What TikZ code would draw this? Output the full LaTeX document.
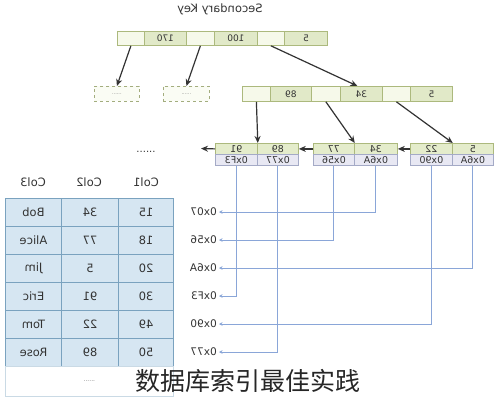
\documentclass[tikz,border=0pt]{standalone}
\usepackage{fontspec}
\setmainfont{DejaVu Sans}
\newfontfamily\cjk{Noto Sans CJK SC}
\usetikzlibrary{arrows.meta}
\newcommand\mr[1]{\reflectbox{#1}}
\definecolor{nodeedge}{HTML}{ACB97D}
\definecolor{keyfill}{HTML}{E1E9C8}
\definecolor{ptrfill}{HTML}{F6F9EA}
\definecolor{leaftop}{HTML}{E4ECCB}
\definecolor{leafbot}{HTML}{E8E8F3}
\definecolor{leafedge}{HTML}{A4AAC6}
\definecolor{tabfill}{HTML}{D6E6F2}
\definecolor{tabedge}{HTML}{7AA2BF}
\definecolor{linkcol}{HTML}{8AA6D8}
\definecolor{txt}{HTML}{333333}
\tikzset{
  cellbase/.style={draw=nodeedge, line width=0.8pt, inner sep=0pt, anchor=north west, text=txt},
  ptrcell/.style={cellbase, fill=ptrfill},
  keycell/.style={cellbase, fill=keyfill, font=\fontsize{9}{9}\selectfont},
  ltop/.style={cellbase, fill=leaftop, minimum height=11pt, font=\fontsize{9.5}{9.5}\selectfont},
  lbot/.style={cellbase, draw=leafedge, fill=leafbot, minimum height=11pt, font=\fontsize{9.5}{9.5}\selectfont},
  dashbox/.style={draw=nodeedge!80!gray, dashed, line width=0.8pt, fill=ptrfill!50, inner sep=0pt, anchor=north west, minimum height=15pt, font=\fontsize{5}{5}\selectfont, text=gray},
  tcell/.style={draw=tabedge, fill=tabfill, line width=1pt, inner sep=0pt, anchor=north west, minimum height=28pt, text=txt, font=\fontsize{11.5}{12}\selectfont},
  thead/.style={text=txt, font=\fontsize{11.5}{12}\selectfont},
  addr/.style={anchor=east, inner sep=2pt, text=txt, font=\fontsize{10.5}{11}\selectfont},
  ptrarrow/.style={-{Stealth[length=7pt,width=6pt]}, line width=1.2pt, draw=txt},
  linkarrow/.style={-{Stealth[length=3.5pt,width=3.5pt]}, line width=0.9pt, draw=linkcol},
}
\begin{document}
\begin{tikzpicture}[x=1pt,y=-1pt]
\useasboundingbox (0,0) rectangle (504,400);
\fill[white] (0,0) rectangle (504,400);
% title
\node[text=txt, font=\fontsize{11.5}{12}\selectfont] (title) at (220,9) {\mr{Secondary Key}};
% top node
\node[ptrcell, minimum width=27pt, minimum height=14pt] (t1) at (117,31) {};
\node[keycell, minimum width=42pt, minimum height=14pt] (t2) at (144,31) {\mr{170}};
\node[ptrcell, minimum width=28pt, minimum height=14pt] (t3) at (186,31) {};
\node[keycell, minimum width=43pt, minimum height=14pt] (t4) at (214,31) {\mr{100}};
\node[ptrcell, minimum width=27pt, minimum height=14pt] (t5) at (257,31) {};
\node[keycell, minimum width=43pt, minimum height=14pt] (t6) at (284,31) {\mr{5}};
% dashed boxes
\node[dashbox, minimum width=45pt] (d1) at (94,86) {......};
\node[dashbox, minimum width=46pt] (d2) at (163,86) {......};
% level 2
\node[ptrcell, minimum width=28pt, minimum height=15pt] (m1) at (242,86) {};
\node[keycell, minimum width=41pt, minimum height=15pt] (m2) at (270,86) {\mr{89}};
\node[ptrcell, minimum width=29pt, minimum height=15pt] (m3) at (311,86) {};
\node[keycell, minimum width=42pt, minimum height=15pt] (m4) at (340,86) {\mr{34}};
\node[ptrcell, minimum width=28pt, minimum height=15pt] (m5) at (382,86) {};
\node[keycell, minimum width=42pt, minimum height=15pt] (m6) at (410,86) {\mr{5}};
% leaves
\node[ltop, minimum width=42pt] (L1a) at (215,143) {\mr{91}};
\node[ltop, minimum width=41pt] (L1b) at (257,143) {\mr{89}};
\node[lbot, minimum width=42pt] (B1a) at (215,154) {\mr{0xF3}};
\node[lbot, minimum width=41pt] (B1b) at (257,154) {\mr{0x77}};
\node[ltop, minimum width=41pt] (L2a) at (313,143) {\mr{77}};
\node[ltop, minimum width=43pt] (L2b) at (354,143) {\mr{34}};
\node[lbot, minimum width=41pt] (B2a) at (313,154) {\mr{0x56}};
\node[lbot, minimum width=43pt] (B2b) at (354,154) {\mr{0x6A}};
\node[ltop, minimum width=42pt] (L3a) at (410,143) {\mr{22}};
\node[ltop, minimum width=41pt] (L3b) at (452,143) {\mr{5}};
\node[lbot, minimum width=42pt] (B3a) at (410,154) {\mr{0x90}};
\node[lbot, minimum width=41pt] (B3b) at (452,154) {\mr{0x6A}};
\coordinate (lend) at (201,148.5);
% tree arrows
\draw[ptrarrow] (t1.south) -- (d1.north);
\draw[ptrarrow] (t3.south) -- (d2.north);
\draw[ptrarrow] (t5.south) -- ([xshift=-4pt]m4.north);
\draw[ptrarrow] (m1.south) -- (L1a.north east);
\draw[ptrarrow] (m3.south) -- (L2a.north east);
\draw[ptrarrow] (m5.south) -- (L3a.north east);
\draw[ptrarrow] (L3a.west) -- (L2b.east);
\draw[ptrarrow] (L2a.west) -- (L1b.east);
\draw[ptrarrow] (L1a.west) -- (lend);
% dots above table
\node[text=txt, font=\fontsize{10}{10}\selectfont] (dots) at (146,152) {......};
% table header
\node[thead] (h3) at (33,182) {\mr{Col3}};
\node[thead] (h2) at (89,182) {\mr{Col2}};
\node[thead] (h1) at (146,182) {\mr{Col1}};
% table rows
\foreach \a/\b/\n [count=\i] in {15/34/Bob, 18/77/Alice, 20/5/Jim, 30/91/Eric, 49/22/Tom, 50/89/Rose} {
  \node[tcell, minimum width=56pt] (r\i c3) at (5,{198+28*(\i-1)}) {\mr{\n}};
  \node[tcell, minimum width=57pt] (r\i c2) at (61,{198+28*(\i-1)}) {\mr{\b}};
  \node[tcell, minimum width=55pt] (r\i c1) at (118,{198+28*(\i-1)}) {\mr{\a}};
}
\node[draw=tabedge!40, fill=white, line width=0.8pt, inner sep=0pt, anchor=north west, minimum width=168pt, minimum height=30pt, text=gray, font=\fontsize{6}{6}\selectfont] (rlast) at (5,366) {......};
% addresses
\node[addr] (a1) at (219,212) {\mr{0x07}};
\node[addr] (a2) at (219,240) {\mr{0x56}};
\node[addr] (a3) at (219,268) {\mr{0x6A}};
\node[addr] (a4) at (219,296) {\mr{0xF3}};
\node[addr] (a5) at (219,324) {\mr{0x90}};
\node[addr] (a6) at (219,352) {\mr{0x77}};
% links
\draw[linkarrow] (B2b.south) |- (a1.east);
\draw[linkarrow] (B2a.south) |- (a2.east);
\draw[linkarrow] (B3b.south) |- (a3.east);
\draw[linkarrow] (B1a.south) |- (a4.east);
\draw[linkarrow] (B3a.south) |- (a5.east);
\draw[linkarrow] (B1b.south) |- (a6.east);
% watermark
\node[anchor=west, inner sep=0pt, text=black!85, font=\cjk\fontsize{25}{25}\selectfont] (wm) at (135,381) {数据库索引最佳实践};
\end{tikzpicture}
\end{document}
